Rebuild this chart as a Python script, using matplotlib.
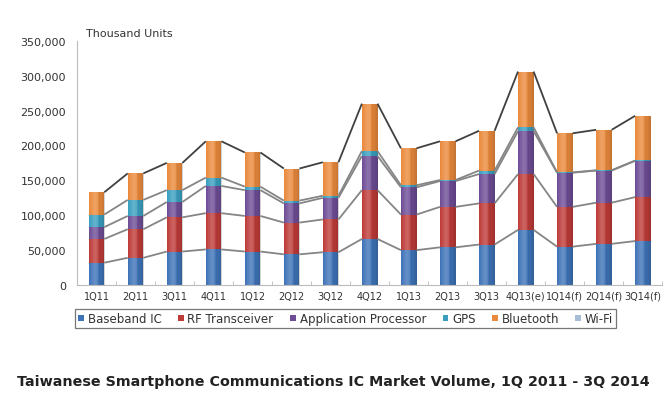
import numpy as np
import matplotlib.pyplot as plt
from matplotlib.ticker import FuncFormatter

# -------------------------
# Data (thousand units)
# -------------------------
quarters = ["1Q11", "2Q11", "3Q11", "4Q11", "1Q12", "2Q12", "3Q12", "4Q12",
            "1Q13", "2Q13", "3Q13", "4Q13(e)", "1Q14(f)", "2Q14(f)", "3Q14(f)"]

baseband = [32000, 39000, 48000, 51000, 48000, 44000, 47000, 66000,
            50000, 54000, 58000, 79000, 55000, 59000, 63000]
rf_transceiver = [34000, 41000, 49000, 52000, 51000, 45500, 47000, 70000,
                  51000, 58000, 59000, 80000, 57000, 59000, 63000]
app_processor = [17000, 19000, 22000, 39000, 37000, 27500, 31000, 49000,
                 39000, 37000, 42000, 61500, 49000, 46000, 52000]
gps = [18000, 23000, 17000, 12000, 5000, 4000, 3000, 7000,
       3000, 1500, 5000, 5500, 500, 500, 500]
bluetooth = [32000, 38000, 39000, 52000, 49000, 46000, 48000, 68000,
             53000, 55500, 57000, 80000, 56000, 58000, 64000]
wifi = [0, 0, 0, 0, 0, 0, 0, 0, 0, 0, 0, 0, 0, 0, 0]

series_names = ["Baseband IC", "RF Transceiver", "Application Processor",
                "GPS", "Bluetooth", "Wi-Fi"]
series_values = [baseband, rf_transceiver, app_processor, gps, bluetooth, wifi]
series_colors = ["#3E73B8", "#BE3B38", "#6E4D96", "#3A9FBF", "#EA8A3C", "#A9BCD6"]

# horizontal shading to mimic the cylinder-ish excel bars
u = np.linspace(0, 1, 64)
shade = np.zeros((1, 64, 4))
light = np.clip(1 - np.abs(u - 0.38) / 0.38, 0, 1)
dark = np.clip((u - 0.6) / 0.4, 0, 1)
shade[0, :, :3] = np.where(light[:, None] > 0, 1.0, 0.0)
shade[0, :, 3] = 0.22 * light + 0.18 * dark
shade[0, dark > 0, :3] = 0.0

# -------------------------
# Figure
# -------------------------
fig = plt.figure(figsize=(6.66, 4.10), dpi=100)
ax = fig.add_axes([0.1156, 0.3024, 0.879, 0.5955])

x = np.arange(len(quarters))
bar_w = 0.4
bottom = np.zeros(len(quarters))
tops = []
handles = []
for name, vals, col in zip(series_names, series_values, series_colors):
    vals = np.array(vals, dtype=float)
    h = ax.bar(x, vals, bar_w, bottom=bottom, color=col, label=name,
               linewidth=0, zorder=2)
    handles.append(h)
    for p in h.patches:
        if p.get_height() <= 0:
            continue
        im = ax.imshow(shade, extent=[p.get_x(), p.get_x() + p.get_width(),
                                      p.get_y(), p.get_y() + p.get_height()],
                       aspect="auto", interpolation="bilinear", zorder=2.5)
        im.set_clip_path(p)
    bottom = bottom + vals
    tops.append(bottom.copy())

# series lines between neighbouring bars
for k, level in enumerate(tops[:-1]):
    lc = "#404040" if k == len(tops) - 2 else "#858585"
    for i in range(len(quarters) - 1):
        ax.plot([x[i] + bar_w / 2, x[i + 1] - bar_w / 2],
                [level[i], level[i + 1]], color=lc, lw=1.3, zorder=3,
                solid_capstyle="butt")

ax.set_xlim(-0.5, len(quarters) - 0.5)
ax.set_ylim(0, 350000)
ax.set_yticks(np.arange(0, 350001, 50000))
ax.yaxis.set_major_formatter(FuncFormatter(lambda v, p: f"{int(v):,}"))
ax.set_xticks(x)
ax.set_xticklabels(quarters, fontsize=7, color="#333333")
ax.set_xticks(np.arange(-0.5, len(quarters), 1), minor=True)
ax.tick_params(axis="x", which="major", length=0, pad=4)
ax.tick_params(axis="x", which="minor", length=3, color="#BBBBBB", direction="in")
ax.tick_params(axis="y", length=0, labelsize=8, labelcolor="#333333", pad=8)

for s in ["top", "right"]:
    ax.spines[s].set_visible(False)
ax.spines["left"].set_color("#BBBBBB")
ax.spines["bottom"].set_color("#BBBBBB")

fig.text(0.129, 0.917, "Thousand Units", fontsize=8, color="#333333",
         ha="left", va="center")

leg = fig.legend(handles=handles, loc="center", bbox_to_anchor=(0.519, 0.22),
                 ncol=6, fontsize=8.5, frameon=True, fancybox=False,
                 handlelength=0.5, handleheight=0.5, handletextpad=0.3,
                 columnspacing=1.4, borderpad=0.25, labelcolor="#333333")
leg.get_frame().set_edgecolor("#555555")
leg.get_frame().set_linewidth(0.9)

fig.text(0.5, 0.068,
         "Taiwanese Smartphone Communications IC Market Volume, 1Q 2011 - 3Q 2014",
         fontsize=10.3, fontweight="bold", color="#222222", ha="center", va="center")

fig.savefig("out.png", dpi=100, facecolor="white")
